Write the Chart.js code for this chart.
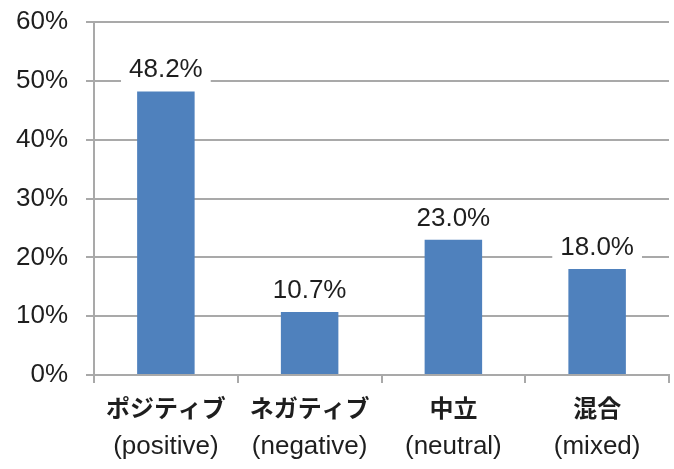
<!DOCTYPE html>
<html>
<head>
<meta charset="utf-8">
<script src="https://cdn.jsdelivr.net/npm/chart.js@4.4.1/dist/chart.umd.min.js"></script>
<style>
  html, body { margin: 0; padding: 0; background: #ffffff; }
  #wrap { width: 674px; height: 469px; }
</style>
</head>
<body>
<div id="wrap"><canvas id="c" width="674" height="469"></canvas></div>
<script>
// Sentiment categories (Japanese + English) and shares in percent
const categoriesJa = ['ポジティブ', 'ネガティブ', '中立', '混合'];
const categoriesEn = ['(positive)', '(negative)', '(neutral)', '(mixed)'];
const shares = [48.2, 10.7, 23.0, 18.0];
const yTicks = [0, 10, 20, 30, 40, 50, 60];

const GRID = '#a9a9a9';
const TEXT = '#1e1e1e';

// Value labels above each bar, on a white box that masks the gridlines
const valueLabels = {
  id: 'valueLabels',
  afterDatasetsDraw(chart) {
    const ctx = chart.ctx;
    const meta = chart.getDatasetMeta(0);
    ctx.save();
    ctx.font = '26px "Liberation Sans", Arial, sans-serif';
    ctx.textAlign = 'center';
    ctx.textBaseline = 'alphabetic';
    meta.data.forEach((bar, i) => {
      const txt = shares[i].toFixed(1) + '%';
      const w = ctx.measureText(txt).width + 16;
      const base = bar.y - 14;
      ctx.fillStyle = '#ffffff';
      ctx.fillRect(bar.x - w / 2, base - 25, w, 31);
      ctx.fillStyle = TEXT;
      ctx.fillText(txt, bar.x, base);
    });
    ctx.restore();
  }
};

// Two-line category labels: Japanese on top, English below
const categoryLabels = {
  id: 'categoryLabels',
  afterDraw(chart) {
    const ctx = chart.ctx;
    const x = chart.scales.x;
    ctx.save();
    ctx.fillStyle = TEXT;
    ctx.textAlign = 'center';
    ctx.textBaseline = 'middle';
    categoriesJa.forEach((lab, i) => {
      const px = x.getPixelForValue(i);
      ctx.font = 'bold 24px "Noto Sans CJK JP", sans-serif';
      ctx.fillText(lab, px, 408);
      ctx.font = '26px "Liberation Sans", Arial, sans-serif';
      ctx.fillText(categoriesEn[i], px, 447);
    });
    ctx.restore();
  }
};

new Chart(document.getElementById('c'), {
  type: 'bar',
  data: {
    labels: categoriesJa,
    datasets: [{
      data: shares,
      backgroundColor: '#4f81bd',
      borderWidth: 0,
      categoryPercentage: 1.0,
      barPercentage: 0.4
    }]
  },
  options: {
    responsive: false,
    animation: false,
    layout: { padding: { top: 22, right: 5, bottom: 0, left: 0 } },
    plugins: {
      legend: { display: false },
      tooltip: { enabled: false }
    },
    scales: {
      x: {
        offset: true,
        grid: {
          offset: true,
          drawOnChartArea: false,
          drawTicks: true,
          tickLength: 8,
          color: GRID,
          lineWidth: 2
        },
        border: { display: true, color: GRID, width: 2 },
        ticks: { display: false },
        afterFit(scale) {
          scale.height = 94;
          scale.paddingLeft = 0;
          scale.paddingRight = 0;
        }
      },
      y: {
        min: 0,
        max: 60,
        afterBuildTicks(scale) { scale.ticks = yTicks.map(v => ({ value: v })); },
        grid: {
          color: GRID,
          lineWidth: 2,
          tickLength: 8,
          drawTicks: true
        },
        border: { display: true, color: GRID, width: 2 },
        ticks: {
          color: TEXT,
          font: { family: '"Liberation Sans", Arial, sans-serif', size: 26 },
          padding: 18,
          callback: v => v + '%'
        },
        afterFit(scale) {
          scale.width = 94;
          scale.paddingTop = 0;
          scale.paddingBottom = 0;
        }
      }
    }
  },
  plugins: [valueLabels, categoryLabels]
});
</script>
</body>
</html>
